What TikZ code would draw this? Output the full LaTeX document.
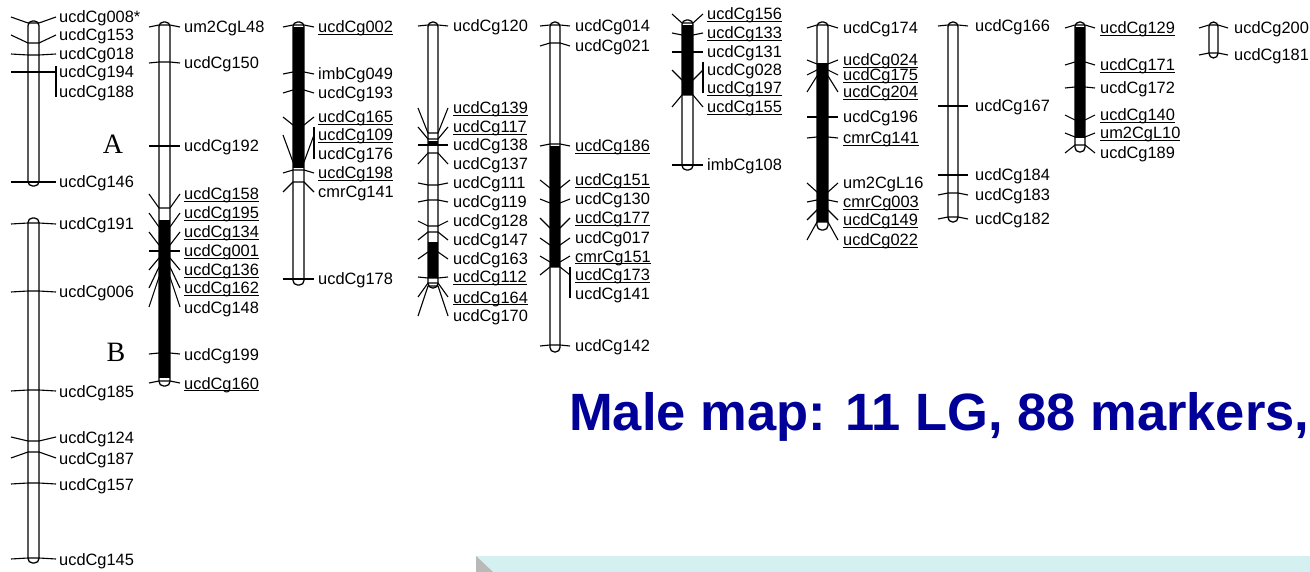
\documentclass[tikz,border=0pt]{standalone}
\usepackage{fontspec}
\setmainfont{Liberation Sans}
\newfontfamily\letfont{Liberation Serif}
\usepackage{tikz}
\usetikzlibrary{positioning}

\definecolor{mapblue}{RGB}{0,0,153}
\definecolor{bandcyan}{RGB}{212,240,240}

\newcommand{\labfont}{\fontsize{16.4}{18}\selectfont}
% underlined marker name
\newcommand{\ulab}[1]{\setbox0=\hbox{#1}\rlap{\rule[-2.4pt]{\wd0}{1.1pt}}\box0}
% #1 id, #2 rod left, #3 rod right, #4 tick reach, #5 label x, #6 pos/labelpos/name
\newcommand{\markers}[6]{%
  \foreach \p/\l/\mk [count=\i] in {#6}{
    \draw[tick] (#2-#4,\l) -- (#2,\p) -- (#3,\p) -- (#3+#4,\l);
    \node[lab] (#1-\i) at (#5,\l+6) {\mk};
  }}

\begin{document}
\begin{tikzpicture}[x=1pt,y=-1pt,
    rod/.style={draw,line width=1.3pt,rounded corners=4.5pt},
    tick/.style={line width=1.1pt},
    lab/.style={anchor=base west,inner sep=0pt,font=\labfont},
    chrlet/.style={inner sep=0pt,font=\letfont\fontsize{28}{30}\selectfont},
    title/.style={anchor=base west,inner sep=0pt,text=mapblue,
      font=\fontsize{52.5}{56}\selectfont\bfseries}]
    \useasboundingbox (0,0) rectangle (1310,572);

    % black segments
    \foreach \xa/\xb/\ya/\yb in {159/170/220/378, 293/304/27/168, 428/438/141/145,
        428/438/242/278, 550/560/146/267, 682/693/25/95, 817/828/63/222, 1075/1085/27/138}
        \fill (\xa,\ya) rectangle (\xb,\yb);

    % linkage groups
    \foreach \xa/\xb/\ya/\yb in {28/39/21/186, 28/39/218/563, 159/170/22/386, 293/304/22/285,
        428/438/22/288, 550/560/22/352, 682/693/20/170, 817/828/22/230, 948/958/22/222,
        1075/1085/22/152, 1209/1218/22/58}
        \draw[rod] (\xa,\ya) rectangle (\xb,\yb);

    \markers{lgA}{28}{39}{17}{59}{23/17/ucdCg008*, 43/35/ucdCg153, 55/54/ucdCg018,
        72/72/ucdCg194, 182/182/ucdCg146}
    \node[lab] (lgA-6) at (59,92+6) {ucdCg188};
    \draw[tick] (56,66) -- (56,97);

    \markers{lgB}{28}{39}{17}{59}{223/224/ucdCg191, 291/292/ucdCg006, 390/391/ucdCg185,
        441/437/ucdCg124, 452/458/ucdCg187, 483/484/ucdCg157, 558/559/ucdCg145}

    \node[chrlet] (letA) at (113,144) {A};
    \node[chrlet] (letB) at (116,352) {B};

    \markers{lg2}{159}{170}{10}{184}{25/27/um2CgL48, 62/63/ucdCg150, 146/146/ucdCg192,
        208/194/\ulab{ucdCg158}, 227/213/\ulab{ucdCg195}, 245/232/\ulab{ucdCg134},
        251/251/\ulab{ucdCg001}, 258/270/\ulab{ucdCg136}, 267/288/\ulab{ucdCg162},
        277/307/ucdCg148, 353/354/ucdCg199, 381/383/\ulab{ucdCg160}}

    \markers{lg3}{293}{304}{10}{318}{25/27/\ulab{ucdCg002}, 72/74/imbCg049, 90/93/ucdCg193,
        125/117/\ulab{ucdCg165}, 162/135/\ulab{ucdCg109}, 170/173/\ulab{ucdCg198},
        182/192/cmrCg141, 279/279/ucdCg178}
    \node[lab] (lg3-9) at (318,154+6) {ucdCg176};
    \draw[tick] (314,127) -- (314,159);

    \markers{lg4}{428}{438}{10}{453}{25/26/ucdCg120, 133/108/\ulab{ucdCg139},
        139/127/\ulab{ucdCg117}, 145/145/ucdCg138, 153/164/ucdCg137, 185/183/ucdCg111,
        200/202/ucdCg119, 226/221/ucdCg128, 232/240/ucdCg147, 252/259/ucdCg163,
        278/277/\ulab{ucdCg112}, 283/297/\ulab{ucdCg164}, 286/316/ucdCg170}

    \markers{lg5}{550}{560}{10}{575}{25/26/ucdCg014, 43/46/ucdCg021, 144/146/\ulab{ucdCg186},
        188/180/\ulab{ucdCg151}, 203/199/ucdCg130, 228/218/\ulab{ucdCg177},
        245/238/ucdCg017, 262/256/\ulab{cmrCg151}, 267/275/\ulab{ucdCg173},
        345/346/ucdCg142}
    \node[lab] (lg5-11) at (575,294+6) {ucdCg141};
    \draw[tick] (570,267) -- (570,298);

    \markers{lg6}{682}{693}{10}{707}{23/14/\ulab{ucdCg156}, 35/33/\ulab{ucdCg133},
        52/52/ucdCg131, 80/70/ucdCg028, 95/107/\ulab{ucdCg155}, 165/165/imbCg108}
    \node[lab] (lg6-7) at (707,88+6) {\ulab{ucdCg197}};
    \draw[tick] (703,62) -- (703,93);

    \markers{lg7}{817}{828}{10}{843}{25/28/ucdCg174, 64/60/\ulab{ucdCg024},
        70/75/\ulab{ucdCg175}, 76/92/\ulab{ucdCg204}, 117/117/ucdCg196,
        137/138/\ulab{cmrCg141}, 192/183/um2CgL16, 200/202/\ulab{cmrCg003},
        210/220/\ulab{ucdCg149}, 222/240/\ulab{ucdCg022}}

    \markers{lg8}{948}{958}{10}{975}{25/26/ucdCg166, 106/106/ucdCg167, 175/175/ucdCg184,
        193/195/ucdCg183, 217/219/ucdCg182}

    \markers{lg9}{1075}{1085}{10}{1100}{25/28/\ulab{ucdCg129}, 62/65/\ulab{ucdCg171},
        87/88/ucdCg172, 120/115/\ulab{ucdCg140}, 137/133/\ulab{um2CgL10}, 145/153/ucdCg189}

    \markers{lg10}{1209}{1218}{10}{1234}{25/28/ucdCg200, 53/55/ucdCg181}

    \node[title] (maptitle) at (569,430) {Male map: 11 LG, 88 markers,};

    % strip along the bottom
    \fill[bandcyan] (476,556) rectangle (1310,572);
    \fill[gray!55] (476,556) -- (493,572) -- (476,572) -- cycle;
\end{tikzpicture}
\end{document}
